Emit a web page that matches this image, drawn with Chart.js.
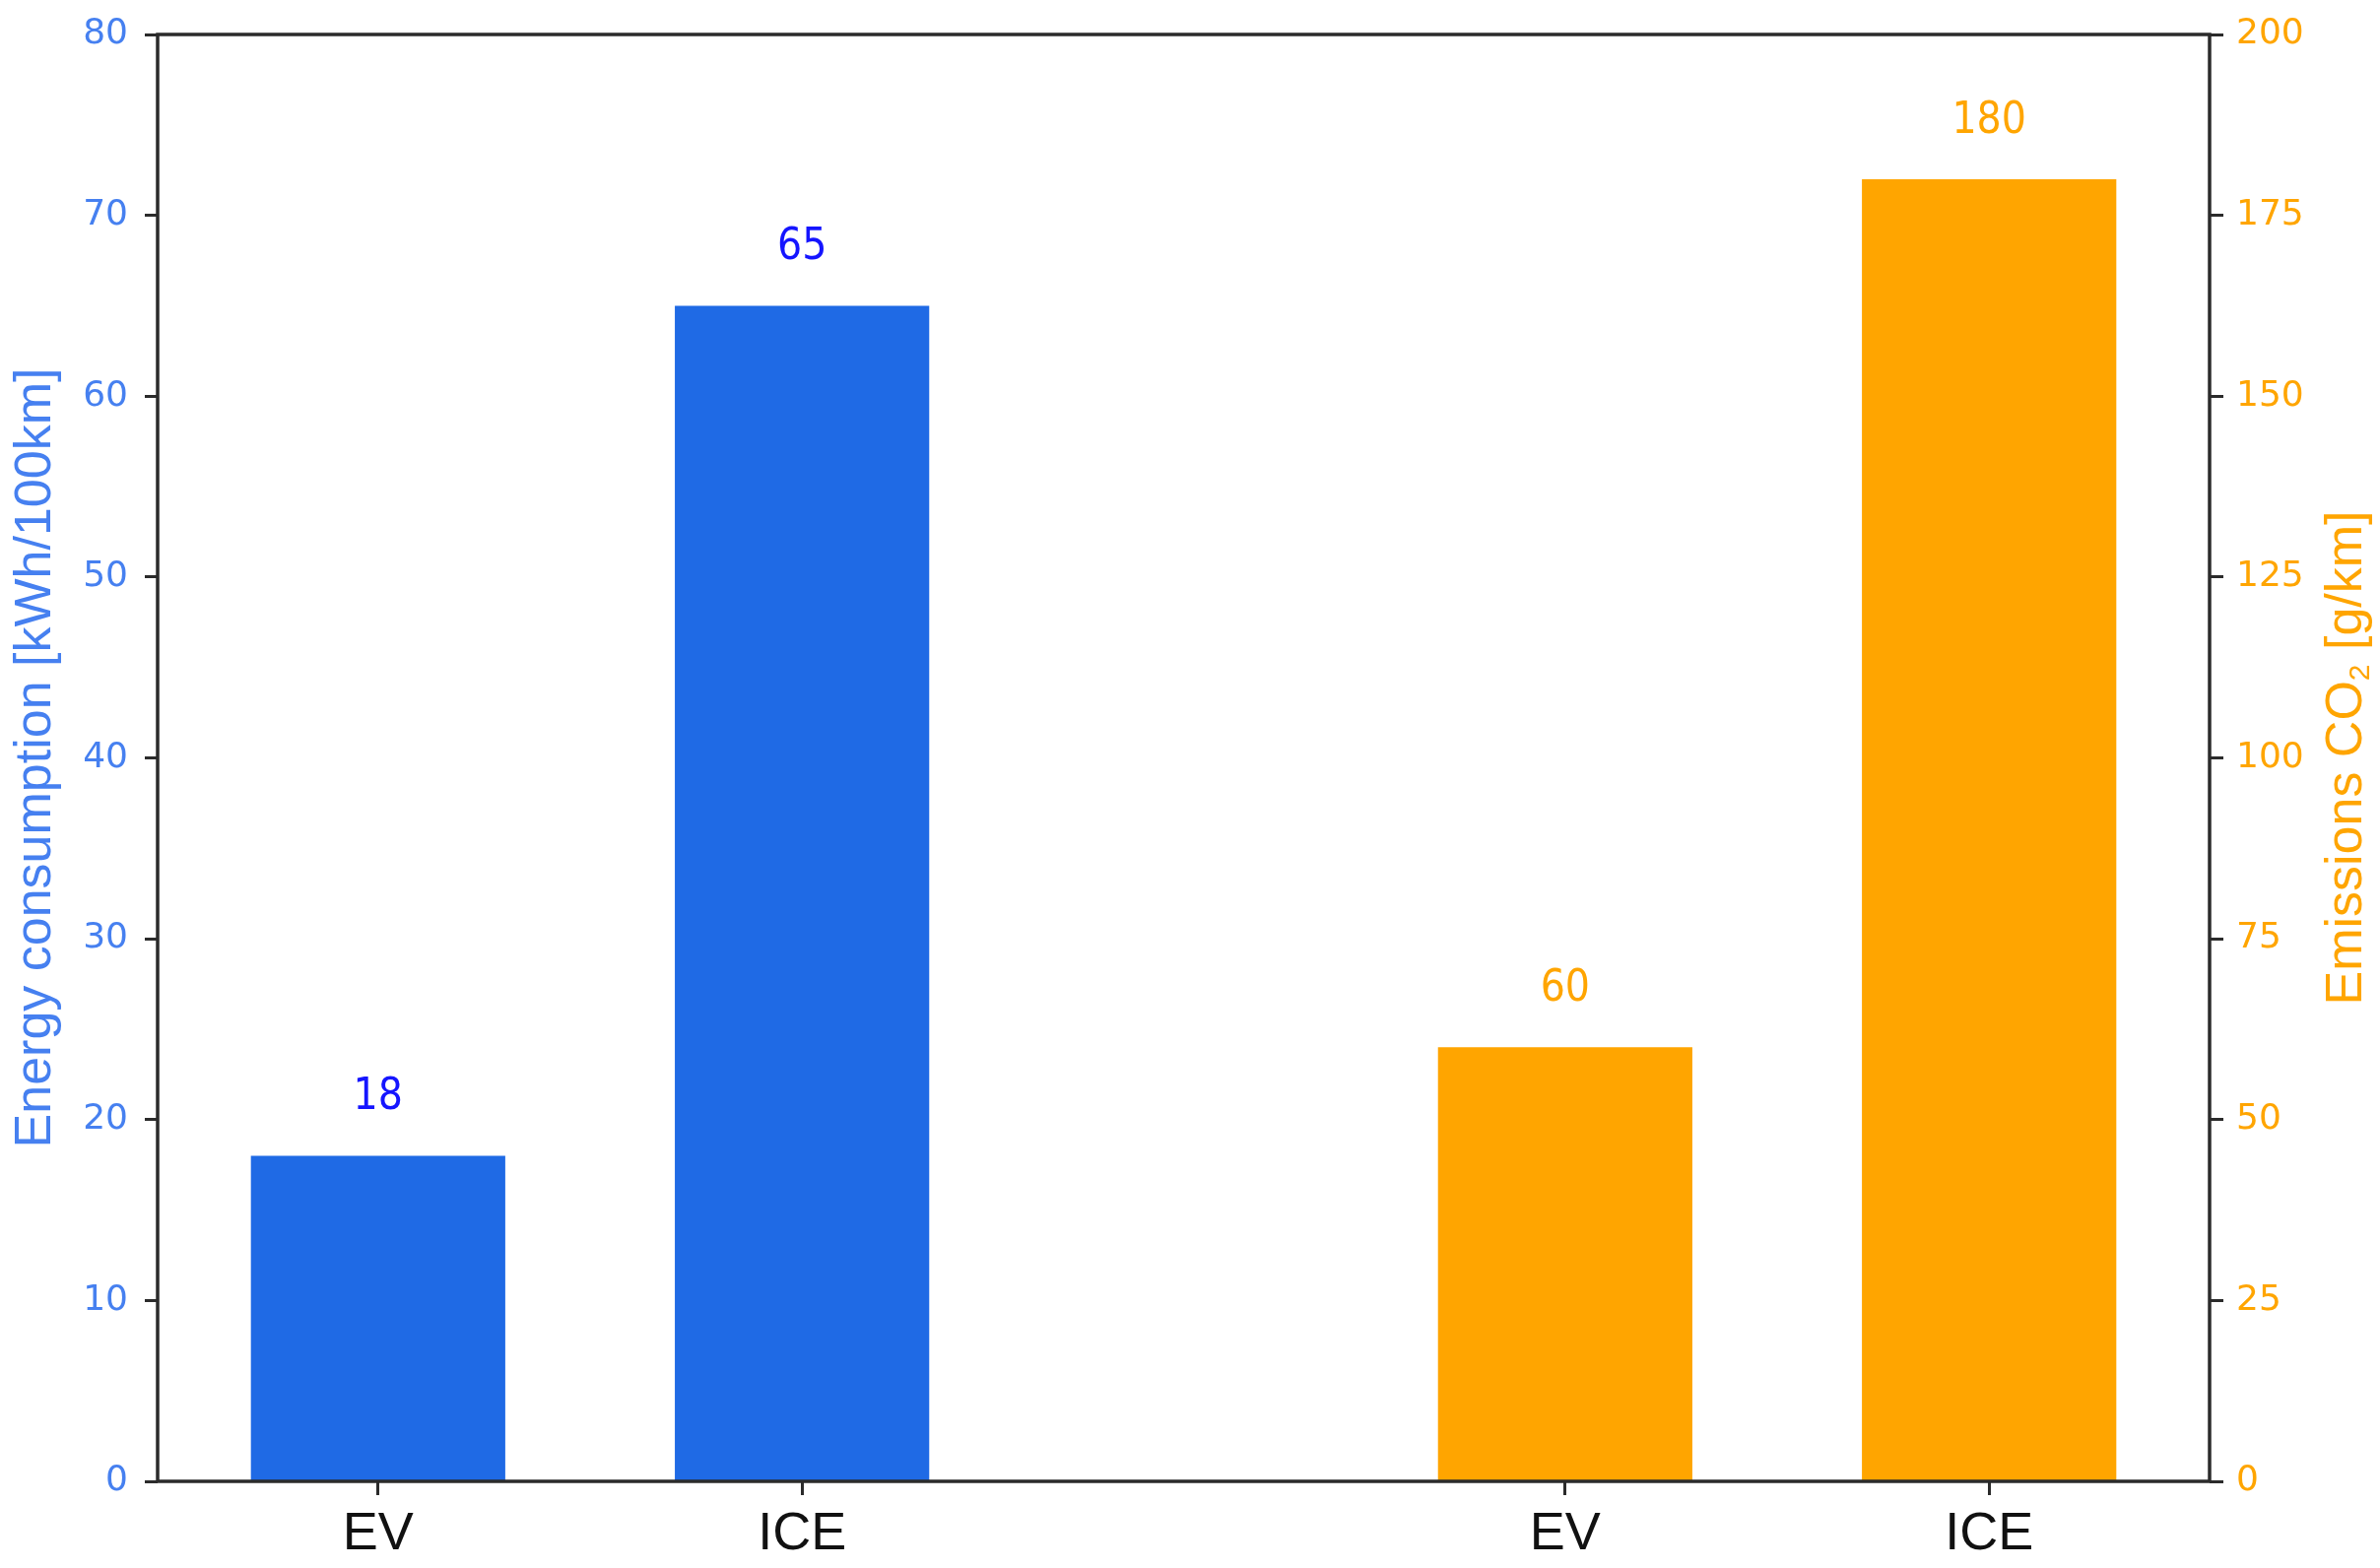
<!DOCTYPE html>
<html>
<head>
<meta charset="utf-8">
<script src="https://cdn.jsdelivr.net/npm/chart.js@4.4.1/dist/chart.umd.min.js"></script>
<style>
  body { margin: 0; background: #ffffff; }
  #wrap { width: 2416px; height: 1592px; position: relative; }
</style>
</head>
<body>
<div id="wrap"><canvas id="chart"></canvas></div>
<script>
// categories in each group, and the values per vehicle type
var categories = ['EV', 'ICE'];
var energyValues = [18, 65];      // kWh/100km, left axis
var emissionValues = [60, 180];   // g/km CO2, right axis
var leftTicks = [0, 10, 20, 30, 40, 50, 60, 70, 80];
var rightTicks = [0, 25, 50, 75, 100, 125, 150, 175, 200];

// second group sits 2.8 units to the right of the first
var groupShift = 2.8;

var blueBar = '#1f6ae5';
var blueText = '#4680f0';
var orange = '#ffa500';
var axisColor = '#2b2b2b';
var titleFont = '"Liberation Sans", sans-serif';

function points(values, shift) {
    var out = [];
    for (var i = 0; i < values.length; i++) {
        out.push({ x: i + shift, y: values[i] });
    }
    return out;
}

var tickPositions = [];
for (var i = 0; i < categories.length; i++) tickPositions.push(i);
for (var i = 0; i < categories.length; i++) tickPositions.push(i + groupShift);

// value labels above the bars
var valueLabels = {
    id: 'valueLabels',
    afterDatasetsDraw: function(chart) {
        var ctx = chart.ctx;
        ctx.save();
        ctx.font = '44px "DejaVu Sans Condensed", "DejaVu Sans"';
        ctx.textAlign = 'center';
        ctx.textBaseline = 'alphabetic';
        chart.data.datasets.forEach(function(ds, di) {
            var meta = chart.getDatasetMeta(di);
            ctx.fillStyle = ds.labelColor;
            meta.data.forEach(function(bar, j) {
                ctx.fillText(String(ds.data[j].y), bar.x, bar.y - 47);
            });
        });
        ctx.restore();
    }
};

// matplotlib style box round the plot, and the right label read bottom to top
var frame = {
    id: 'frame',
    afterDraw: function(chart) {
        var a = chart.chartArea;
        var ctx = chart.ctx;
        ctx.save();
        ctx.strokeStyle = axisColor;
        ctx.lineWidth = 3.5;
        ctx.strokeRect(a.left, a.top, a.right - a.left, a.bottom - a.top);
        ctx.restore();

        var parts = [
            { text: 'Emissions CO', size: 52, dy: 0 },
            { text: '2', size: 30, dy: 8 },
            { text: ' [g/km]', size: 52, dy: 0 }
        ];
        ctx.save();
        var total = 0;
        parts.forEach(function(p) {
            ctx.font = p.size + 'px ' + titleFont;
            p.w = ctx.measureText(p.text).width;
            total += p.w;
        });
        var cx = chart.width - 38;
        var cy = (a.top + a.bottom) / 2;
        ctx.translate(cx, cy);
        ctx.rotate(-Math.PI / 2);
        ctx.fillStyle = orange;
        ctx.textAlign = 'left';
        ctx.textBaseline = 'alphabetic';
        var x = -total / 2;
        parts.forEach(function(p) {
            ctx.font = p.size + 'px ' + titleFont;
            ctx.fillText(p.text, x, 19 + p.dy);
            x += p.w;
        });
        ctx.restore();
    }
};

var ctx = document.getElementById('chart').getContext('2d');
var chart = new Chart(ctx, {
    type: 'bar',
    data: {
        datasets: [{
            label: 'Energy consumption',
            data: points(energyValues, 0),
            backgroundColor: blueBar,
            labelColor: '#1515ff',
            yAxisID: 'y',
            grouped: false,
            barPercentage: 0.6,
            categoryPercentage: 1
        }, {
            label: 'Emissions CO2',
            data: points(emissionValues, groupShift),
            backgroundColor: orange,
            labelColor: orange,
            yAxisID: 'y1',
            grouped: false,
            barPercentage: 0.6,
            categoryPercentage: 1
        }]
    },
    options: {
        responsive: true,
        maintainAspectRatio: false,
        animation: false,
        layout: { padding: { top: 33, left: 0, right: 0, bottom: 0 } },
        plugins: {
            legend: { display: false },
            tooltip: { enabled: false }
        },
        scales: {
            x: {
                type: 'linear',
                min: -0.52,
                max: 4.32,
                offset: false,
                afterBuildTicks: function(scale) {
                    scale.ticks = tickPositions.map(function(v) { return { value: v }; });
                },
                afterFit: function(scale) { scale.height = 88; },
                border: { display: false },
                grid: {
                    offset: false,
                    drawOnChartArea: false,
                    tickLength: 14,
                    tickWidth: 3,
                    tickColor: axisColor
                },
                ticks: {
                    autoSkip: false,
                    maxRotation: 0,
                    padding: 8,
                    color: '#111111',
                    font: { family: titleFont, size: 54 },
                    callback: function(value, index) {
                        return categories[index % categories.length];
                    }
                }
            },
            y: {
                position: 'left',
                min: 0,
                max: 80,
                afterBuildTicks: function(scale) {
                    scale.ticks = leftTicks.map(function(v) { return { value: v }; });
                },
                afterFit: function(scale) { scale.width = 160; },
                border: { display: false },
                grid: {
                    drawOnChartArea: false,
                    tickLength: 13,
                    tickWidth: 3,
                    tickColor: axisColor
                },
                ticks: {
                    padding: 17,
                    color: blueText,
                    font: { family: '"DejaVu Sans"', size: 36, lineHeight: 1 }
                },
                title: {
                    display: true,
                    text: 'Energy consumption [kWh/100km]',
                    color: blueText,
                    padding: { top: 5, bottom: 0 },
                    font: { family: titleFont, size: 52 }
                }
            },
            y1: {
                position: 'right',
                min: 0,
                max: 200,
                afterBuildTicks: function(scale) {
                    scale.ticks = rightTicks.map(function(v) { return { value: v }; });
                },
                afterFit: function(scale) { scale.width = 173; },
                border: { display: false },
                grid: {
                    drawOnChartArea: false,
                    tickLength: 14,
                    tickWidth: 3,
                    tickColor: axisColor
                },
                ticks: {
                    padding: 13,
                    color: orange,
                    font: { family: '"DejaVu Sans"', size: 36, lineHeight: 1 }
                }
            }
        }
    },
    plugins: [valueLabels, frame]
});
</script>
</body>
</html>
